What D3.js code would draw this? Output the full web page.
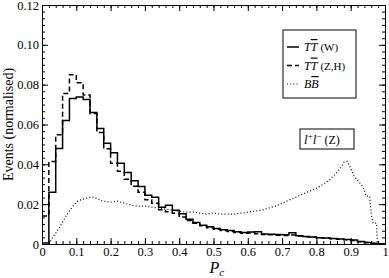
<!DOCTYPE html>
<html>
<head>
<meta charset="utf-8">
<script src="https://cdn.jsdelivr.net/npm/d3@7"></script>
<style>
  body { margin: 0; background: #fff; }
  svg { display: block; font-family: "Liberation Serif", "DejaVu Serif", serif; }
  .ovl { text-decoration: overline; }
</style>
</head>
<body>
<div id="chart"></div>
<script>
// bins of width 0.02 from 0 to 1
var binEdges = d3.range(51).map(function (i) { return i / 50; });

// TT(W), solid
var ttW = [0.0005, 0.026, 0.048, 0.062, 0.073, 0.0738, 0.0725, 0.066, 0.058, 0.0506,
           0.0458, 0.0405, 0.0359, 0.0317, 0.0289, 0.0245, 0.0235, 0.0184, 0.0194, 0.017,
           0.0152, 0.0124, 0.0108, 0.0094, 0.0086, 0.0078, 0.0072, 0.0068, 0.0062, 0.0058,
           0.006, 0.0062, 0.005, 0.0049, 0.0048, 0.0046, 0.0056, 0.0042, 0.0038, 0.0035,
           0.0032, 0.003, 0.0027, 0.0025, 0.0022, 0.002, 0.0012, 0.0008, 0.0004, 0.0001];

// TT(Z,H), dashed
var ttZH = [0.014, 0.0414, 0.0548, 0.0756, 0.085, 0.081, 0.0748, 0.0655, 0.056, 0.0478,
            0.0405, 0.0365, 0.0325, 0.029, 0.026, 0.0222, 0.0205, 0.0172, 0.0162, 0.0155,
            0.0135, 0.0118, 0.0104, 0.0092, 0.0082, 0.0074, 0.0068, 0.0063, 0.0058, 0.0054,
            0.0055, 0.0052, 0.0048, 0.0046, 0.0044, 0.0043, 0.0045, 0.004, 0.0037, 0.0034,
            0.0031, 0.0029, 0.0026, 0.0024, 0.0021, 0.0018, 0.0011, 0.0007, 0.0003, 0.0001];

// BB, dotted curve
var bbX = [0.02, 0.03, 0.04, 0.05, 0.06, 0.07, 0.08, 0.09, 0.10, 0.11, 0.12, 0.13, 0.14, 0.15,
           0.16, 0.17, 0.18, 0.20, 0.22, 0.24, 0.26, 0.28, 0.30, 0.32, 0.34, 0.36, 0.38, 0.40,
           0.42, 0.44, 0.46, 0.48, 0.50, 0.52, 0.54, 0.56, 0.58, 0.60, 0.62, 0.64, 0.66, 0.68,
           0.70, 0.72, 0.74, 0.76, 0.78, 0.80, 0.82, 0.84, 0.86, 0.87, 0.88, 0.89, 0.90, 0.91,
           0.92, 0.93, 0.94, 0.945, 0.955, 0.96, 0.965, 0.975, 0.978];
var bbY = [0.0, 0.003, 0.0055, 0.008, 0.011, 0.014, 0.0165, 0.019, 0.021, 0.022, 0.0225, 0.023, 0.0235, 0.0235,
           0.023, 0.022, 0.0215, 0.021, 0.0215, 0.0205, 0.0195, 0.019, 0.019, 0.0185, 0.018, 0.0175, 0.017, 0.0165,
           0.016, 0.016, 0.0155, 0.015, 0.0155, 0.015, 0.015, 0.015, 0.0155, 0.016, 0.0165, 0.017, 0.018, 0.019,
           0.0205, 0.022, 0.0235, 0.025, 0.0265, 0.028, 0.030, 0.0325, 0.036, 0.038, 0.041, 0.0415, 0.038, 0.034,
           0.032, 0.030, 0.027, 0.024, 0.024, 0.015, 0.0105, 0.0105, 0.0];

var xTicks = [0, 0.1, 0.2, 0.3, 0.4, 0.5, 0.6, 0.7, 0.8, 0.9, 1];
var xTickLabels = ["0", "0.1", "0.2", "0.3", "0.4", "0.5", "0.6", "0.7", "0.8", "0.9", "1"];
var yTicks = [0, 0.02, 0.04, 0.06, 0.08, 0.10, 0.12];
var yTickLabels = ["0", "0.02", "0.04", "0.06", "0.08", "0.10", "0.12"];

var W = 389, H = 278;
var margin = { top: 5, right: 4, bottom: 34, left: 42 },
    width = W - margin.left - margin.right,
    height = H - margin.top - margin.bottom;

var svg = d3.select("#chart")
  .append("svg")
  .attr("width", W)
  .attr("height", H);

var g = svg.append("g")
  .attr("transform", "translate(" + margin.left + "," + margin.top + ")");

var x = d3.scaleLinear().domain([0, 1]).range([0, width]);
var y = d3.scaleLinear().domain([0, 0.12]).range([height, 0]);

var xMinor = d3.range(51).map(function (i) { return i / 50; });
var yMinor = d3.range(37).map(function (i) { return i * 0.02 / 6; });

function styleAxis(sel) {
  sel.selectAll("line").attr("stroke", "#000").attr("stroke-width", 1);
  sel.selectAll("path").attr("stroke", "#000").attr("stroke-width", 1);
  sel.selectAll("text").attr("fill", "#000").style("font-size", "12.5px")
    .style("font-family", "'Liberation Serif', serif");
}

// minor ticks, all four sides
g.append("g").attr("transform", "translate(0," + height + ")")
  .call(d3.axisBottom(x).tickValues(xMinor).tickSize(-3).tickFormat(""))
  .call(styleAxis).select(".domain").remove();
g.append("g")
  .call(d3.axisTop(x).tickValues(xMinor).tickSize(-3).tickFormat(""))
  .call(styleAxis).select(".domain").remove();
g.append("g")
  .call(d3.axisLeft(y).tickValues(yMinor).tickSize(-3).tickFormat(""))
  .call(styleAxis).select(".domain").remove();
g.append("g").attr("transform", "translate(" + width + ",0)")
  .call(d3.axisRight(y).tickValues(yMinor).tickSize(-3).tickFormat(""))
  .call(styleAxis).select(".domain").remove();

// major ticks
g.append("g").attr("transform", "translate(0," + height + ")")
  .call(d3.axisBottom(x).tickValues(xTicks).tickSize(-6).tickPadding(3)
    .tickFormat(function (d, i) { return xTickLabels[i]; }))
  .call(styleAxis);
g.append("g")
  .call(d3.axisTop(x).tickValues(xTicks).tickSize(-6).tickFormat(""))
  .call(styleAxis);
g.append("g")
  .call(d3.axisLeft(y).tickValues(yTicks).tickSize(-6).tickPadding(3)
    .tickFormat(function (d, i) { return yTickLabels[i]; }))
  .call(styleAxis);
g.append("g").attr("transform", "translate(" + width + ",0)")
  .call(d3.axisRight(y).tickValues(yTicks).tickSize(-6).tickFormat(""))
  .call(styleAxis);

// histograms
function stepPoints(vals) {
  var pts = vals.map(function (v, i) { return [binEdges[i], v]; });
  pts.push([binEdges[vals.length], vals[vals.length - 1]]);
  return pts;
}

var stepLine = d3.line()
  .x(function (d) { return x(d[0]); })
  .y(function (d) { return y(d[1]); })
  .curve(d3.curveStepAfter);

g.append("path").datum(stepPoints(ttW))
  .attr("fill", "none").attr("stroke", "#000").attr("stroke-width", 1.5)
  .attr("d", stepLine);

g.append("path").datum(stepPoints(ttZH))
  .attr("fill", "none").attr("stroke", "#000").attr("stroke-width", 1.5)
  .attr("stroke-dasharray", "5,3")
  .attr("d", stepLine);

var bbLine = d3.line()
  .x(function (d) { return x(d[0]); })
  .y(function (d) { return y(d[1]); });

g.append("path").datum(bbX.map(function (v, i) { return [v, bbY[i]]; }))
  .attr("fill", "none").attr("stroke", "#000").attr("stroke-width", 1.2)
  .attr("stroke-dasharray", "1,2.2")
  .attr("d", bbLine);

// axis titles
svg.append("text")
  .attr("transform", "translate(13," + (margin.top + height / 2) + ") rotate(-90)")
  .attr("text-anchor", "middle")
  .style("font-size", "14px")
  .text("Events (normalised)");

var xt = svg.append("text")
  .attr("x", margin.left + width / 2 - 4)
  .attr("y", 273)
  .style("font-size", "16px");
xt.append("tspan").style("font-style", "italic").text("P");
xt.append("tspan").attr("dy", 3).style("font-size", "11px").style("font-style", "italic").text("c");

// legend
var lg = svg.append("g");
lg.append("rect").attr("x", 283).attr("y", 30).attr("width", 73).attr("height", 68)
  .attr("fill", "#fff").attr("stroke", "#000").attr("stroke-width", 1);

var legendItems = [
  { dash: null, sub: "(W)", first: "T", second: "T" },
  { dash: "5,3", sub: "(Z,H)", first: "T", second: "T" },
  { dash: "1,2.2", sub: "", first: "B", second: "B" }
];
legendItems.forEach(function (d, i) {
  var ly = 47 + i * 18.5;
  lg.append("line").attr("x1", 287).attr("x2", 299).attr("y1", ly).attr("y2", ly)
    .attr("stroke", "#000").attr("stroke-width", d.dash === "1,2.2" ? 1.2 : 1.5)
    .attr("stroke-dasharray", d.dash);
  var t = lg.append("text").attr("x", 304).attr("y", ly + 4).style("font-size", "12px");
  t.append("tspan").style("font-style", "italic").text(d.first);
  t.append("tspan").attr("class", "ovl").style("font-style", "italic").text(d.second);
  if (d.sub) t.append("tspan").attr("dx", 3).style("font-size", "11px").text(d.sub);
});

// l+l- (Z) label
svg.append("rect").attr("x", 300).attr("y", 129).attr("width", 54).attr("height", 20)
  .attr("fill", "#fff").attr("stroke", "#000").attr("stroke-width", 1);
var ll = svg.append("text").attr("x", 304).attr("y", 144).style("font-size", "13px");
ll.append("tspan").style("font-style", "italic").text("l");
ll.append("tspan").attr("dy", -5).style("font-size", "9px").text("+");
ll.append("tspan").attr("dy", 5).style("font-style", "italic").text("l");
ll.append("tspan").attr("dy", -5).style("font-size", "9px").text("\u2212");
ll.append("tspan").attr("dy", 5).attr("dx", 3).style("font-size", "12px").text("(Z)");
</script>
</body>
</html>
